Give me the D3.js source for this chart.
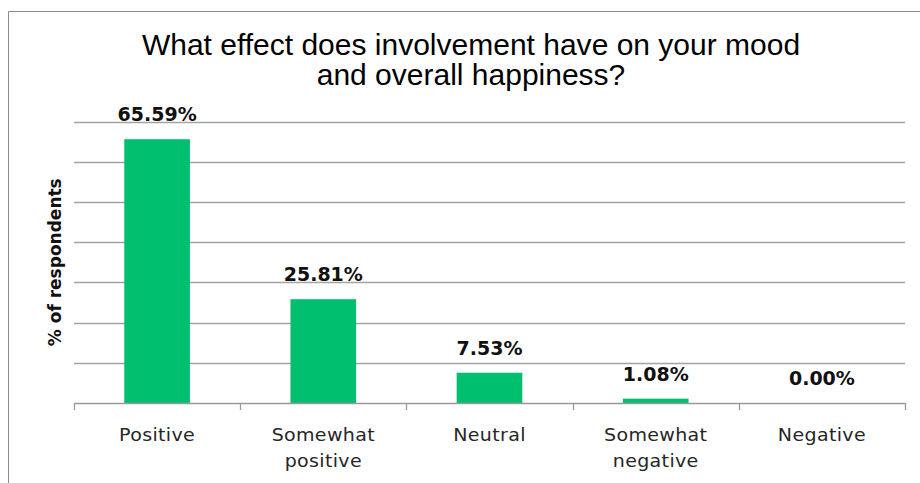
<!DOCTYPE html>
<html>
<head>
<meta charset="utf-8">
<script src="https://cdn.jsdelivr.net/npm/d3@7"></script>
<style>
  html, body { margin: 0; padding: 0; background: #fff; }
  svg { display: block; }
</style>
</head>
<body>
<div id="chart"></div>
<script>
// Survey answers and their share of respondents
const categories = [
  ['Positive'],
  ['Somewhat', 'positive'],
  ['Neutral'],
  ['Somewhat', 'negative'],
  ['Negative'],
];
const shares = [65.59, 25.81, 7.53, 1.08, 0.00];
const yTicks = [0, 10, 20, 30, 40, 50, 60, 70];
const titleLines = [
  'What effect does involvement have on your mood',
  'and overall happiness?',
];

const width = 920;
const height = 483;
const plot = { left: 74, right: 905, top: 121.5, bottom: 403 };

const data = categories.map((lines, i) => ({
  key: lines.join(' '),
  lines,
  value: shares[i],
}));

const svg = d3.select('#chart').append('svg')
  .attr('width', width)
  .attr('height', height)
  .attr('viewBox', `0 0 ${width} ${height}`);

// Outer frame (top and left edges)
svg.append('path')
  .attr('d', `M8.5,${height} V11.5 H${width}`)
  .attr('fill', 'none')
  .attr('stroke', '#8a8a8a')
  .attr('stroke-width', 1);

const x = d3.scaleBand()
  .domain(data.map(d => d.key))
  .range([plot.left, plot.right])
  .paddingInner(0.605)
  .paddingOuter(0.3025);

const y = d3.scaleLinear()
  .domain([0, 70])
  .range([plot.bottom, plot.top]);

// Text helper: a group placed at (px, py) and stretched horizontally
function stretchedText(parent, px, py, sx) {
  return parent.append('g')
    .attr('transform', `translate(${px},${py}) scale(${sx},1)`)
    .append('text');
}

// Horizontal gridlines
svg.append('g')
  .selectAll('line')
  .data(yTicks.filter(t => t > 0))
  .join('line')
  .attr('x1', plot.left)
  .attr('x2', plot.right)
  .attr('y1', d => Math.round(y(d)) + 0.5)
  .attr('y2', d => Math.round(y(d)) + 0.5)
  .attr('stroke', '#a3a3a3')
  .attr('stroke-width', 1.3);

// Bars
svg.append('g')
  .selectAll('rect')
  .data(data)
  .join('rect')
  .attr('x', d => x(d.key))
  .attr('width', x.bandwidth())
  .attr('y', d => y(d.value))
  .attr('height', d => y(0) - y(d.value))
  .attr('fill', '#00bf6f');

// Category axis: baseline plus ticks at band boundaries
const boundaries = d3.range(data.length + 1).map(i => plot.left + i * x.step());
const axis = svg.append('g');
axis.append('line')
  .attr('x1', plot.left)
  .attr('x2', plot.right)
  .attr('y1', plot.bottom + 0.5)
  .attr('y2', plot.bottom + 0.5)
  .attr('stroke', '#9a9a9a')
  .attr('stroke-width', 1.3);
axis.selectAll('.tick')
  .data(boundaries)
  .join('line')
  .attr('class', 'tick')
  .attr('x1', d => Math.round(d) + 0.5)
  .attr('x2', d => Math.round(d) + 0.5)
  .attr('y1', plot.bottom)
  .attr('y2', plot.bottom + 7)
  .attr('stroke', '#9a9a9a')
  .attr('stroke-width', 1.3);

// Category labels
data.forEach(d => {
  const cx = x(d.key) + x.bandwidth() / 2;
  d.lines.forEach((line, j) => {
    stretchedText(svg, cx, 440.5 + j * 26.5, 1.12)
      .attr('text-anchor', 'middle')
      .attr('font-family', 'DejaVu Sans, sans-serif')
      .attr('font-size', 17)
      .attr('letter-spacing', 0.3)
      .attr('fill', '#262626')
      .text(line);
  });
});

// Value labels above the bars
data.forEach(d => {
  const cx = x(d.key) + x.bandwidth() / 2;
  stretchedText(svg, cx, y(d.value) - 18, 1.0)
    .attr('text-anchor', 'middle')
    .attr('font-family', 'DejaVu Sans, sans-serif')
    .attr('font-weight', 'bold')
    .attr('font-size', 19)
    .attr('fill', '#111')
    .text(d3.format('.2f')(d.value) + '%');
});

// Y axis title
svg.append('text')
  .attr('transform', `translate(61,${(plot.top + plot.bottom) / 2}) rotate(-90)`)
  .attr('text-anchor', 'middle')
  .attr('font-family', 'DejaVu Sans, sans-serif')
  .attr('font-weight', 'bold')
  .attr('font-size', 17)
  .attr('fill', '#111')
  .text('% of respondents');

// Chart title
titleLines.forEach((line, i) => {
  stretchedText(svg, 471, 55 + i * 30, 1.035)
    .attr('text-anchor', 'middle')
    .attr('font-family', 'Liberation Sans, Arial, sans-serif')
    .attr('font-size', 29)
    .attr('fill', '#000')
    .text(line);
});
</script>
</body>
</html>
